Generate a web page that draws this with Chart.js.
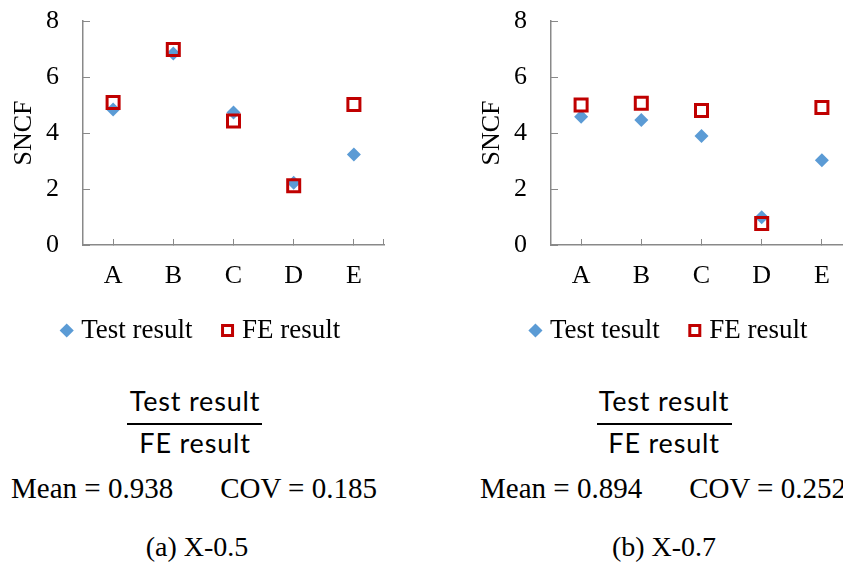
<!DOCTYPE html>
<html>
<head>
<meta charset="utf-8">
<script src="https://cdn.jsdelivr.net/npm/chart.js@4/dist/chart.umd.min.js"></script>
<style>
  html, body { margin: 0; padding: 0; background: #fff; }
  body { width: 843px; height: 564px; overflow: hidden; position: relative; }
  canvas { position: absolute; top: 0; }
  .t { position: absolute; white-space: nowrap; transform: translateX(-50%); color: #000; line-height: 1; }
  .frac { font-family: Lato, "Open Sans", sans-serif; font-size: 27px; letter-spacing: 0.8px; }
  .bar { position: absolute; height: 2px; background: #000; }
  .serif { font-family: "Liberation Serif", "Times New Roman", serif; }
  .gap { display: inline-block; width: 47px; }
</style>
</head>
<body>
<canvas id="c1" width="400" height="360" style="left:0px"></canvas>
<canvas id="c2" width="400" height="360" style="left:468px"></canvas>

<div class="t frac" style="left:195px; top:387px">Test result</div>
<div class="bar" style="left:127px; top:423px; width:135px"></div>
<div class="t frac" style="left:195px; top:429px">FE result</div>
<div class="t serif" style="left:194px; top:474px; font-size:29px">Mean = 0.938<span class="gap"></span>COV = 0.185</div>
<div class="t serif" style="left:197px; top:533px; font-size:28px">(a) X-0.5</div>

<div class="t frac" style="left:664px; top:387px">Test result</div>
<div class="bar" style="left:597px; top:423px; width:135px"></div>
<div class="t frac" style="left:664px; top:429px">FE result</div>
<div class="t serif" style="left:663px; top:474px; font-size:29px">Mean = 0.894<span class="gap"></span>COV = 0.252</div>
<div class="t serif" style="left:664px; top:533px; font-size:28px">(b) X-0.7</div>

<script>
// Specimens and SNCF values
const categories = ['A', 'B', 'C', 'D', 'E'];
const yTicks = [0, 2, 4, 6, 8];

const testX05 = [4.84, 6.84, 4.73, 2.22, 3.23];
const feX05   = [5.09, 6.98, 4.43, 2.12, 5.02];

const testX07 = [4.58, 4.46, 3.89, 0.99, 3.03];
const feX07   = [5.00, 5.06, 4.80, 0.77, 4.91];

const testLabelX05 = 'Test result';
const testLabelX07 = 'Test tesult';
const feLabel = 'FE result';

const AXIS = '#898989';
const BLUE = '#5B9BD5';
const RED = '#C00000';
const SERIF = '"Liberation Serif", "Times New Roman", serif';

// short inward tick at the right end of the category axis
const endTick = {
  id: 'endTick',
  afterDraw(chart) {
    const x = chart.scales.x;
    const ctx = chart.ctx;
    ctx.save();
    ctx.strokeStyle = AXIS;
    ctx.lineWidth = 1;
    ctx.beginPath();
    ctx.moveTo(Math.round(x.right) - 0.5, x.top);
    ctx.lineTo(Math.round(x.right) - 0.5, x.top - 6);
    ctx.stroke();
    ctx.restore();
  }
};

function makeChart(id, testLabel, testVals, feVals) {
  return new Chart(document.getElementById(id), {
    type: 'line',
    data: {
      labels: categories,
      datasets: [
        {
          label: testLabel,
          data: testVals,
          showLine: false,
          pointStyle: 'rectRot',
          pointRadius: 7,
          pointHoverRadius: 7,
          backgroundColor: BLUE,
          borderColor: BLUE,
          borderWidth: 0,
          pointBorderWidth: 0,
          order: 1
        },
        {
          label: feLabel,
          data: feVals,
          showLine: false,
          pointStyle: 'rect',
          pointRadius: 8.5,
          pointHoverRadius: 8.5,
          backgroundColor: 'rgba(0,0,0,0)',
          borderColor: RED,
          borderWidth: 3,
          pointBorderWidth: 3,
          order: 0
        }
      ]
    },
    options: {
      responsive: false,
      animation: false,
      events: [],
      layout: { padding: { top: 21, right: 16, bottom: 6, left: 22 } },
      plugins: {
        tooltip: { enabled: false },
        legend: {
          position: 'bottom',
          labels: {
            usePointStyle: true,
            boxWidth: 2,
            boxHeight: 10,
            padding: 34,
            color: '#000',
            font: { family: SERIF, size: 27 },
            sort: (a, b) => a.datasetIndex - b.datasetIndex
          }
        }
      },
      scales: {
        x: {
          type: 'category',
          offset: true,
          grid: { drawOnChartArea: false, offset: false, tickLength: -6, color: AXIS, lineWidth: 1 },
          border: { color: AXIS, width: 1.5 },
          ticks: { color: '#000', font: { family: SERIF, size: 26 }, padding: 22, maxRotation: 0 },
          afterFit(scale) { scale.height = 38; }
        },
        y: {
          min: 0,
          max: 8,
          afterBuildTicks(scale) { scale.ticks = yTicks.map(v => ({ value: v })); },
          grid: { drawOnChartArea: false, tickLength: -7, color: AXIS, lineWidth: 1 },
          border: { color: AXIS, width: 1.5 },
          ticks: { color: '#000', font: { family: SERIF, size: 26 }, padding: 31 },
          title: { display: true, text: 'SNCF', color: '#000', font: { family: SERIF, size: 26 }, padding: { top: -13, bottom: 0 } },
          afterFit(scale) {
            scale.width = 61;
            scale.paddingTop = 12;
            scale.paddingBottom = 12;
          }
        }
      }
    },
    plugins: [endTick]
  });
}

makeChart('c1', testLabelX05, testX05, feX05);
makeChart('c2', testLabelX07, testX07, feX07);
</script>
</body>
</html>
